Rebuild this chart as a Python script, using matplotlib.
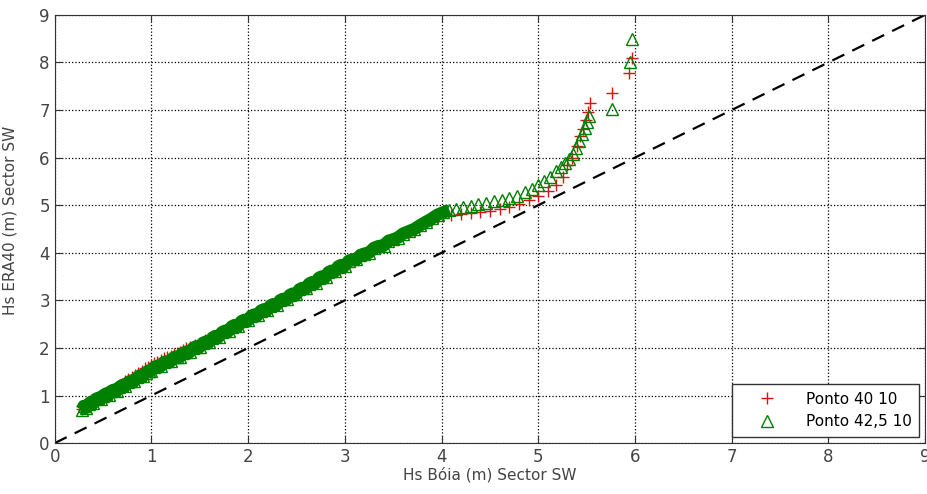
import matplotlib
matplotlib.use('Agg')
from matplotlib import pyplot as plt

# quantiles: buoy Hs (x) vs ERA40 Hs (y)
boia_40 = [0.28, 0.31, 0.34, 0.37, 0.40, 0.43, 0.46, 0.50, 0.53, 0.56,
           0.60, 0.63, 0.66, 0.70, 0.73, 0.76, 0.80, 0.83, 0.86, 0.90,
           0.93, 0.96, 1.00, 1.03, 1.06, 1.10, 1.13, 1.16, 1.20, 1.23,
           1.26, 1.30, 1.33, 1.36, 1.40, 1.45, 1.50, 1.55, 1.60, 1.65,
           1.70, 1.75, 1.80, 1.85, 1.90, 1.95, 2.00, 2.05, 2.10, 2.15,
           2.20, 2.25, 2.30, 2.35, 2.40, 2.45, 2.50, 2.55, 2.60, 2.65,
           2.70, 2.75, 2.80, 2.85, 2.90, 2.95, 3.00, 3.05, 3.10, 3.15,
           3.20, 3.25, 3.30, 3.35, 3.40, 3.45, 3.50, 3.55, 3.60, 3.66,
           3.72, 3.78, 3.84, 3.90, 3.96, 4.02, 4.10, 4.20, 4.30, 4.40,
           4.50, 4.60, 4.70, 4.80, 4.90, 5.00, 5.10, 5.18, 5.26, 5.30,
           5.35, 5.40, 5.43, 5.46, 5.49, 5.51, 5.53, 5.76, 5.94, 5.97]
era_40 = [0.72, 0.80, 0.78, 0.86, 0.88, 0.92, 0.97, 1.00, 1.05, 1.07,
          1.11, 1.16, 1.20, 1.24, 1.31, 1.34, 1.38, 1.44, 1.47, 1.52,
          1.58, 1.60, 1.64, 1.68, 1.70, 1.74, 1.78, 1.80, 1.83, 1.87,
          1.89, 1.92, 1.96, 1.99, 2.02, 2.07, 2.10, 2.16, 2.20, 2.25,
          2.29, 2.35, 2.39, 2.45, 2.50, 2.55, 2.61, 2.66, 2.72, 2.77,
          2.83, 2.88, 2.94, 2.99, 3.05, 3.10, 3.16, 3.21, 3.27, 3.33,
          3.39, 3.45, 3.51, 3.57, 3.63, 3.69, 3.75, 3.81, 3.87, 3.92,
          3.97, 4.02, 4.08, 4.13, 4.19, 4.24, 4.29, 4.34, 4.39, 4.44,
          4.50, 4.56, 4.62, 4.68, 4.75, 4.78, 4.80, 4.82, 4.84, 4.86,
          4.88, 4.92, 4.96, 5.02, 5.10, 5.20, 5.30, 5.42, 5.60, 5.85,
          6.00, 6.25, 6.45, 6.60, 6.80, 6.95, 7.15, 7.35, 7.78, 8.10]

boia_42 = [0.28, 0.30, 0.32, 0.35, 0.37, 0.40, 0.42, 0.45, 0.48, 0.50,
           0.53, 0.56, 0.58, 0.61, 0.64, 0.67, 0.70, 0.73, 0.76, 0.79,
           0.82, 0.85, 0.88, 0.91, 0.94, 0.97, 1.00, 1.03, 1.06, 1.10,
           1.13, 1.16, 1.20, 1.23, 1.26, 1.30, 1.33, 1.36, 1.40, 1.43,
           1.46, 1.50, 1.53, 1.56, 1.60, 1.63, 1.66, 1.70, 1.73, 1.76,
           1.80, 1.83, 1.86, 1.90, 1.93, 1.96, 2.00, 2.03, 2.06, 2.10,
           2.13, 2.16, 2.20, 2.23, 2.26, 2.30, 2.33, 2.36, 2.40, 2.43,
           2.46, 2.50, 2.53, 2.56, 2.60, 2.63, 2.66, 2.70, 2.73, 2.76,
           2.80, 2.83, 2.86, 2.90, 2.93, 2.96, 3.00, 3.04, 3.08, 3.12,
           3.16, 3.20, 3.25, 3.30, 3.35, 3.40, 3.45, 3.50, 3.55, 3.60,
           3.66, 3.72, 3.78, 3.84, 3.90, 3.96, 4.02, 4.08, 4.15, 4.22,
           4.30, 4.38, 4.46, 4.54, 4.62, 4.70, 4.78, 4.86, 4.94, 5.00,
           5.06, 5.12, 5.18, 5.24, 5.28, 5.32, 5.36, 5.39, 5.42, 5.45,
           5.48, 5.50, 5.52, 5.76, 5.95, 5.97]
era_42 = [0.70, 0.78, 0.74, 0.82, 0.86, 0.84, 0.92, 0.95, 0.93, 1.00,
          1.04, 1.02, 1.09, 1.12, 1.10, 1.18, 1.22, 1.20, 1.28, 1.31,
          1.30, 1.38, 1.42, 1.40, 1.48, 1.52, 1.52, 1.60, 1.62, 1.62,
          1.70, 1.72, 1.72, 1.80, 1.82, 1.82, 1.90, 1.92, 1.92, 2.00,
          2.03, 2.02, 2.10, 2.13, 2.13, 2.21, 2.25, 2.24, 2.33, 2.36,
          2.36, 2.45, 2.48, 2.47, 2.56, 2.59, 2.58, 2.67, 2.70, 2.69,
          2.78, 2.81, 2.80, 2.89, 2.92, 2.91, 3.00, 3.03, 3.02, 3.11,
          3.14, 3.13, 3.23, 3.26, 3.25, 3.35, 3.38, 3.37, 3.47, 3.50,
          3.49, 3.59, 3.62, 3.61, 3.71, 3.74, 3.73, 3.83, 3.86, 3.86,
          3.95, 3.98, 4.00, 4.10, 4.14, 4.15, 4.25, 4.28, 4.32, 4.40,
          4.45, 4.50, 4.58, 4.65, 4.72, 4.80, 4.85, 4.90, 4.92, 4.96,
          4.98, 5.02, 5.05, 5.08, 5.10, 5.15, 5.20, 5.27, 5.35, 5.42,
          5.50, 5.60, 5.72, 5.80, 5.88, 5.98, 6.08, 6.20, 6.35, 6.50,
          6.62, 6.75, 6.88, 7.03, 8.00, 8.50]

ticks = list(range(0, 10))
dense_until = 4.1  # below this the markers merge into a solid band

red = '#dd1111'
green = '#008000'

fig = plt.figure(figsize=(9.27, 4.94), dpi=100)
ax = fig.add_axes([0.059, 0.103, 0.939, 0.867])

n42 = sum(1 for v in boia_42 if v <= dense_until)

ax.plot(boia_40, era_40, '+', color=red, markersize=9, markeredgewidth=1.0,
        label='Ponto 40 10')
ax.plot(boia_42[:n42], era_42[:n42], '-', color=green, linewidth=9,
        solid_capstyle='butt')
ax.plot(boia_42, era_42, '^', color=green, markerfacecolor='none', markersize=8,
        markeredgewidth=1.0, label='Ponto 42,5 10')
ax.plot([0, 9], [0, 9], '--', color='black', linewidth=1.6, dashes=(6, 4))

ax.set_xlim(0, 9)
ax.set_ylim(0, 9)
ax.set_xticks(ticks)
ax.set_yticks(ticks)
ax.grid(True, linestyle=':', color='black', linewidth=0.9)
ax.tick_params(direction='in', length=5, top=True, right=True,
               labelsize=12, colors='#333333', labelcolor='#444444')
for s in ax.spines.values():
    s.set_color('#333333')

ax.set_xlabel('Hs Bóia (m) Sector SW', fontsize=11, color='#444444', labelpad=1)
ax.set_ylabel('Hs ERA40 (m) Sector SW', fontsize=11, color='#444444', labelpad=0)
ax.yaxis.set_label_coords(-0.043, 0.52)

leg = ax.legend(loc='lower right', fontsize=11, fancybox=False, framealpha=1,
                edgecolor='#333333', borderpad=0.5, handlelength=3.5,
                borderaxespad=0.4)
leg.get_frame().set_linewidth(1.0)

plt.savefig('out.png', dpi=100)
